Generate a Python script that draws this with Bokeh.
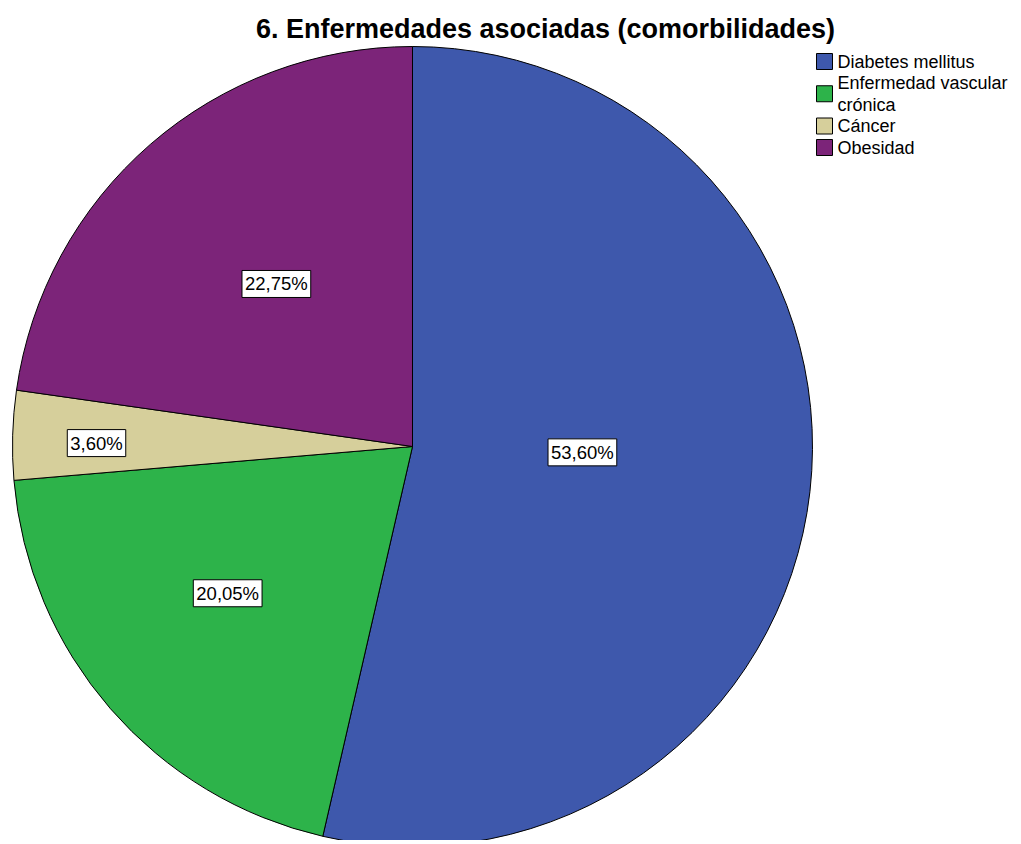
import math
from bokeh.plotting import figure
from bokeh.models import Range1d, Label
from bokeh.core.properties import value
from bokeh.embed import file_html
from bokeh.resources import INLINE

# ---- data ----
title = "6. Enfermedades asociadas (comorbilidades)"
categories = ["Diabetes mellitus", "Enfermedad vascular crónica", "Cáncer", "Obesidad"]
legend_lines = [["Diabetes mellitus"], ["Enfermedad vascular", "crónica"], ["Cáncer"], ["Obesidad"]]
percentages = [53.60, 20.05, 3.60, 22.75]
colors = ["#3e58ac", "#2db34a", "#d6cf9b", "#7c2479"]

# ---- layout constants (pixels) ----
W, H = 1013, 840
CX, CY, R = 412, -446, 400
LABEL_RF = [0.425, 0.59, 0.79, 0.53]
LABEL_DA = [-4.5, 2.5, -1.0, 1.0]  # small clockwise angle tweaks (deg)
FONT = "Liberation Sans"

p = figure(width=W, height=H, output_backend="svg", toolbar_location=None,
           x_range=Range1d(0, W), y_range=Range1d(-H, 0),
           x_axis_location=None, y_axis_location=None, min_border=0)
p.grid.visible = False
p.outline_line_color = None
p.background_fill_color = "white"
p.border_fill_color = "white"

total = sum(percentages)
starts, ends, lx, ly, ltxt = [], [], [], [], []
cum = 0.0
for v, rf, da in zip(percentages, LABEL_RF, LABEL_DA):
    a_end = math.pi / 2 - cum / total * 2 * math.pi
    a_start = math.pi / 2 - (cum + v) / total * 2 * math.pi
    starts.append(a_start)
    ends.append(a_end)
    mid = math.pi / 2 - (cum + v / 2) / total * 2 * math.pi - math.radians(da)
    lx.append(CX + rf * R * math.cos(mid))
    ly.append(CY + rf * R * math.sin(mid))
    ltxt.append(f"{v:.2f}%".replace(".", ","))
    cum += v

p.wedge(x=CX, y=CY, radius=R, start_angle=starts, end_angle=ends,
        fill_color=colors, line_color="black", line_width=1)

p.text(x=lx, y=ly, text=ltxt, text_align="center", text_baseline="middle",
       text_font=value(FONT), text_font_size="18.5px", text_color="black",
       background_fill_color="white", border_line_color="black",
       border_line_width=1, padding=3)

p.add_layout(Label(x=545, y=-28, text=title, text_align="center",
                   text_baseline="alphabetic", text_font=FONT,
                   text_font_size="27px", text_font_style="bold",
                   text_color="black"))

# ---- legend ----
line_h = 21.5
y0 = 61
sq = 16
sq_x = 816
line_idx = 0
for lines, col in zip(legend_lines, colors):
    ys = []
    for t in lines:
        yy = y0 + line_idx * line_h
        ys.append(yy)
        p.text(x=[837], y=[-yy], text=[t], text_align="left", text_baseline="middle",
               text_font=value(FONT), text_font_size="18px", text_color="black")
        line_idx += 1
    yc = sum(ys) / len(ys)
    p.rect(x=[sq_x + sq / 2], y=[-yc], width=sq, height=sq,
           fill_color=col, line_color="black", line_width=1)

open("out.html", "w").write(file_html(p, INLINE))
